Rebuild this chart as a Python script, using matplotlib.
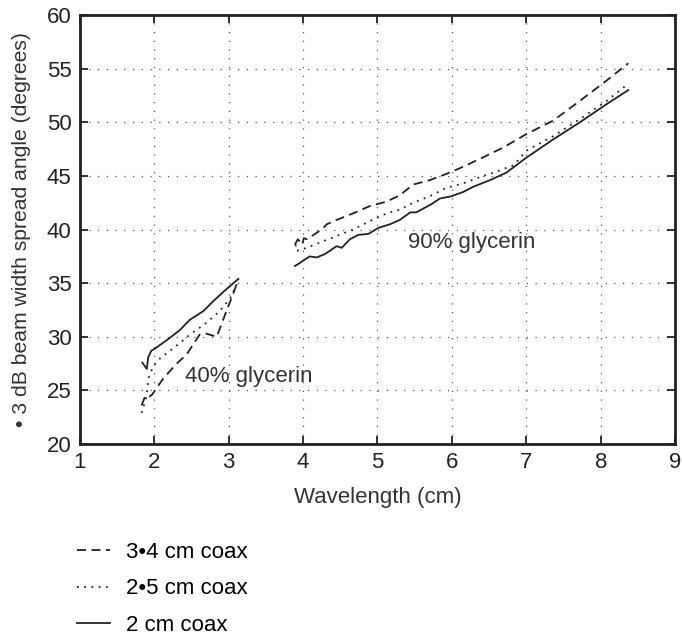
import matplotlib.pyplot as plt

# 40% glycerin (short wavelengths)
x_34_lo = [1.83, 1.88, 1.93, 1.97, 2.12, 2.30, 2.43, 2.61, 2.70, 2.84, 2.97, 3.06, 3.13]
y_34_lo = [23.6, 24.5, 24.4, 24.6, 26.1, 27.5, 28.3, 30.2, 30.3, 30.0, 32.4, 34.0, 35.35]

x_25_lo = [1.83, 1.87, 1.90, 1.92, 1.99, 2.08, 2.25, 2.48, 2.70, 2.88, 3.02, 3.11]
y_25_lo = [22.9, 23.8, 24.5, 26.1, 27.3, 28.0, 28.9, 30.2, 31.3, 32.4, 33.6, 34.9]

x_2_lo = [1.84, 1.90, 1.92, 1.96, 2.03, 2.19, 2.34, 2.48, 2.66, 2.79, 2.93, 3.13]
y_2_lo = [27.6, 27.0, 28.1, 28.7, 29.0, 29.8, 30.6, 31.6, 32.4, 33.3, 34.2, 35.4]

# 90% glycerin (long wavelengths)
x_34_hi = [3.89, 3.93, 3.99, 4.01, 4.05, 4.14, 4.25, 4.32, 4.45, 4.67, 4.90, 5.12, 5.30,
           5.48, 5.70, 5.93, 6.15, 6.38, 6.69, 7.00, 7.36, 7.72, 8.08, 8.37]
y_34_hi = [38.6, 39.1, 38.6, 39.2, 39.1, 39.5, 40.0, 40.5, 40.9, 41.5, 42.2, 42.6, 43.2,
           44.2, 44.6, 45.2, 45.85, 46.6, 47.65, 48.9, 50.15, 52.0, 53.9, 55.5]

x_25_hi = [3.90, 3.91, 4.05, 4.23, 4.45, 4.67, 4.90, 5.12, 5.30, 5.48, 5.70, 5.93,
           6.15, 6.38, 6.60, 6.83, 7.00, 7.36, 7.72, 8.08, 8.37]
y_25_hi = [38.6, 38.0, 38.3, 38.8, 39.4, 40.0, 40.8, 41.5, 41.85, 42.5, 43.1, 43.9,
           44.3, 44.9, 45.4, 46.0, 47.35, 48.7, 50.3, 52.0, 53.6]

x_2_hi = [3.89, 3.96, 4.00, 4.09, 4.18, 4.29, 4.45, 4.52, 4.63, 4.74, 4.88, 5.01, 5.17,
          5.30, 5.44, 5.52, 5.72, 5.84, 5.99, 6.15, 6.29, 6.51, 6.73, 7.00, 7.36,
          7.72, 8.08, 8.37]
y_2_hi = [36.6, 36.9, 37.1, 37.5, 37.4, 37.7, 38.45, 38.3, 39.1, 39.5, 39.6, 40.15, 40.5,
          40.9, 41.6, 41.6, 42.35, 42.9, 43.1, 43.5, 44.0, 44.6, 45.3, 46.7, 48.4,
          50.0, 51.7, 53.0]

labels = ['3•4 cm coax', '2•5 cm coax', '2 cm coax']

plt.rcParams['font.family'] = ['Liberation Sans', 'DejaVu Sans']

fig = plt.figure(figsize=(6.82, 6.39), dpi=100)
ax = fig.add_axes([0.117, 0.305, 0.873, 0.6715])

dash = dict(color='#222222', lw=1.3, linestyle=(0, (5, 3)))
dot = dict(color='#222222', lw=1.3, linestyle=(0, (1, 3)))
solid = dict(color='#222222', lw=1.3, linestyle='-')

l1, = ax.plot(x_34_lo, y_34_lo, **dash)
ax.plot(x_34_hi, y_34_hi, **dash)
l2, = ax.plot(x_25_lo, y_25_lo, **dot)
ax.plot(x_25_hi, y_25_hi, **dot)
l3, = ax.plot(x_2_lo, y_2_lo, **solid)
ax.plot(x_2_hi, y_2_hi, **solid)

ax.text(2.41, 26.3, '40% glycerin', fontsize=16, color='#333333', va='center')
ax.text(5.41, 38.8, '90% glycerin', fontsize=16, color='#333333', va='center')

ax.set_xlim(1, 9)
ax.set_ylim(20, 60)
ax.set_xticks(range(1, 10))
ax.set_yticks(range(20, 61, 5))
ax.grid(True, linestyle=(0, (1, 6)), color='#555555', lw=0.9)
ax.tick_params(direction='in', length=6, width=1.3, labelsize=16,
               top=True, right=True, pad=6, colors='#222222')
for s in ax.spines.values():
    s.set_linewidth(2)
    s.set_color('#222222')

ax.set_xlabel('Wavelength (cm)', fontsize=16, color='#333333', labelpad=10)
ax.set_ylabel('• 3 dB beam width spread angle (degrees)', fontsize=15.2,
              color='#333333', labelpad=11)

fig.legend([l1, l2, l3], labels, loc='upper left', bbox_to_anchor=(0.1, 0.166),
           frameon=False, fontsize=16, handlelength=1.5, handletextpad=0.7,
           labelspacing=0.7, borderaxespad=0)

fig.savefig('out.png', dpi=100)
